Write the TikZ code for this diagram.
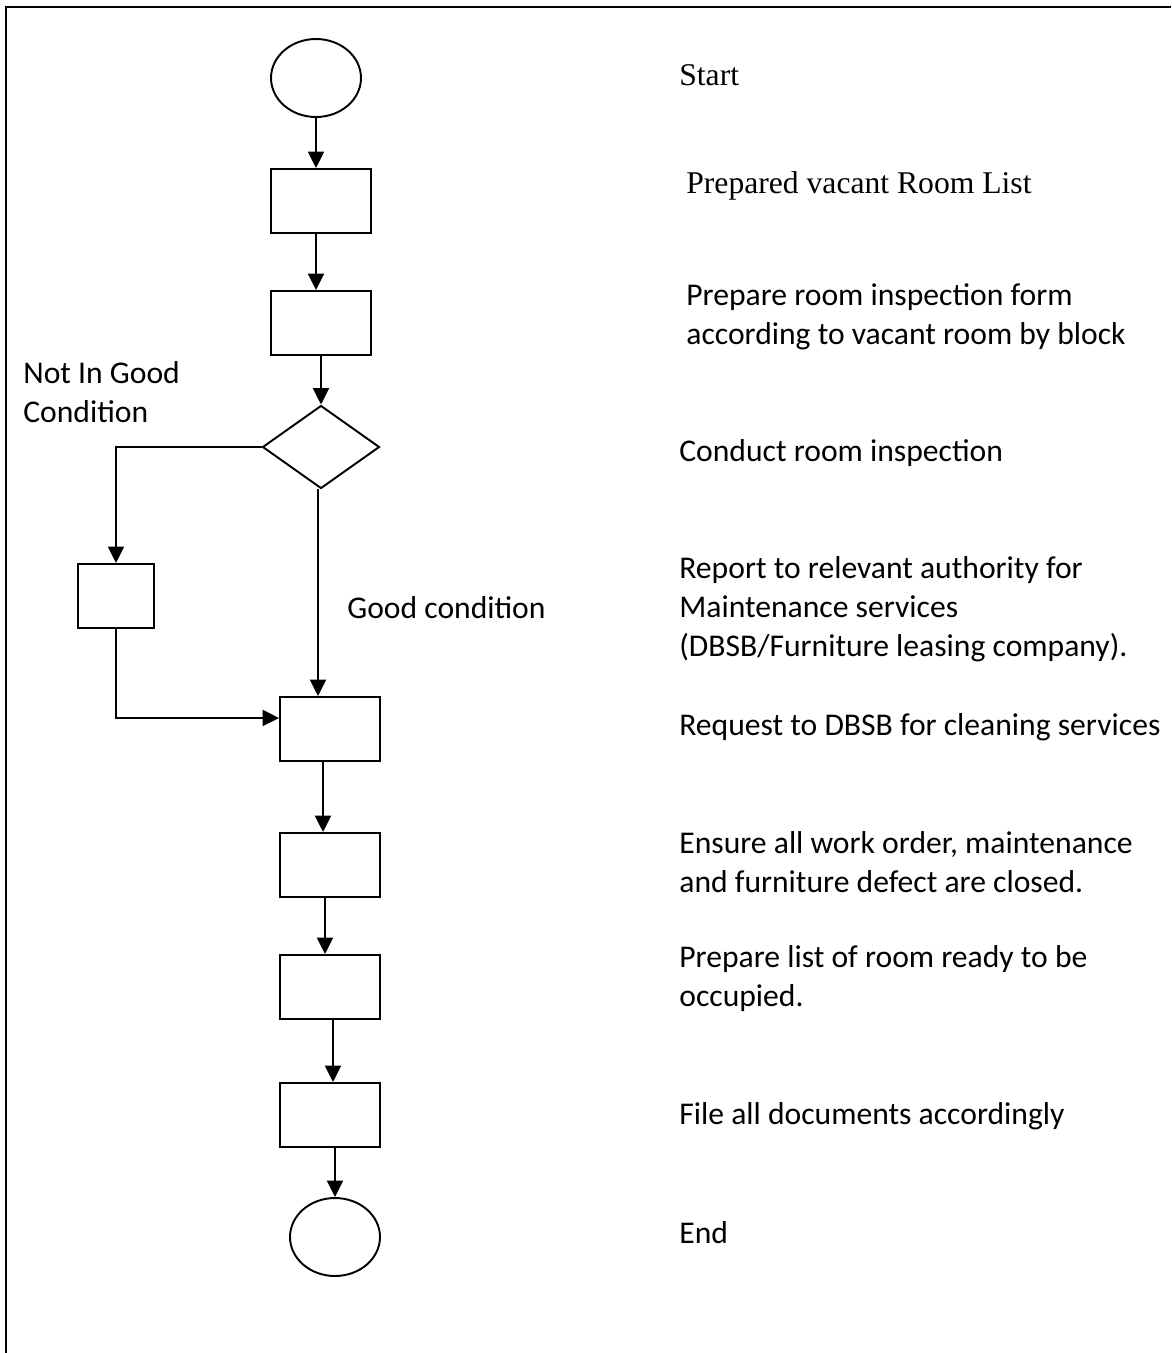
\documentclass[tikz,border=0pt]{standalone}
\usepackage{fontspec}
\setmainfont{Carlito}
\newfontfamily\timesfont{Liberation Serif}
\usepackage{tikz}
\usetikzlibrary{
  arrows.meta,
  shapes.geometric,
  positioning
}
\newcommand{\stepfont}{\fontsize{18}{22.2}\selectfont}
\tikzset{
  procbox/.style={draw, line width=1.1pt, minimum width=2cm, minimum height=1.28cm, inner sep=0pt},
  terminal/.style={draw, ellipse, line width=1.1pt, minimum width=1.8cm, minimum height=1.56cm, inner sep=0pt},
  decision/.style={draw, diamond, line width=1.1pt, minimum width=2.34cm, minimum height=1.66cm, inner sep=0pt},
  flow/.style={-{Triangle[length=3.3mm, width=3.2mm]}, line width=1.2pt},
  steptext/.style={anchor=west, align=left, inner sep=0pt, font=\stepfont},
  serifstep/.style={steptext, font=\timesfont\fontsize{18}{22}\selectfont},
  frameline/.style={line width=1.2pt}
}

\begin{document}
\begin{tikzpicture}[x=0.02cm, y=-0.02cm]
  \useasboundingbox (0,0) rectangle (1171,1353);
  \draw[frameline] (6,1353) -- (6,7) -- (1171,7);

  % flow chart
  \node[terminal] (start) at (316,78) {};
  \node[procbox] (list) at (321,201) {};
  \node[procbox] (form) at (321,323) {};
  \node[decision] (insp) at (321,447) {};
  \node[procbox, minimum width=1.52cm] (report) at (116,596) {};
  \node[procbox] (clean) at (330,729) {};
  \node[procbox] (close) at (330,865) {};
  \node[procbox] (ready) at (330,987) {};
  \node[procbox] (file) at (330,1115) {};
  \node[terminal] (end) at (335,1237) {};

  \draw[flow] (start.south) -- (start.south |- list.north);
  \draw[flow] (list.south -| start.south) -- (start.south |- form.north);
  \draw[flow] (form.south) -- (insp.north);
  \draw[flow] ([xshift=-0.06cm]insp.south) -- ([xshift=-0.06cm]insp.south |- clean.north);
  \draw[flow] (insp.west) -| (report.north);
  \draw[flow] (report.south) |- ([yshift=0.22cm]clean.west);
  \draw[flow] ([xshift=-0.14cm]clean.south) -- ([xshift=-0.14cm]close.north);
  \draw[flow] ([xshift=-0.1cm]close.south) -- ([xshift=-0.1cm]ready.north);
  \draw[flow] ([xshift=0.06cm]ready.south) -- ([xshift=0.06cm]file.north);
  \draw[flow] (file.south -| end.north) -- (end.north);

  % branch labels
  \node[steptext] (nogood) at (23,392) {Not In Good\\Condition};
  \node[steptext] (good) at (347,608) {Good condition};

  % descriptions
  \node[serifstep] (tstart) at (679,75) {Start};
  \node[serifstep] (tlist) at (686,186) {Prepared vacant Room List};
  \node[steptext] (tform) at (686,317) {Prepare room inspection form\\according to vacant room by block};
  \node[steptext] (tinsp) at (679,453) {Conduct room inspection};
  \node[steptext] (treport) at (679,609) {Report to relevant authority for\\Maintenance services\\(DBSB/Furniture leasing company).};
  \node[steptext] (tclean) at (679,727) {Request to DBSB for cleaning services};
  \node[steptext] (tclose) at (679,862) {Ensure all work order, maintenance\\and furniture defect are closed.};
  \node[steptext] (tready) at (679,979) {Prepare list of room ready to be\\occupied.};
  \node[steptext] (tfile) at (679,1116) {File all documents accordingly};
  \node[steptext] (tend) at (679,1233) {End};
\end{tikzpicture}
\end{document}
